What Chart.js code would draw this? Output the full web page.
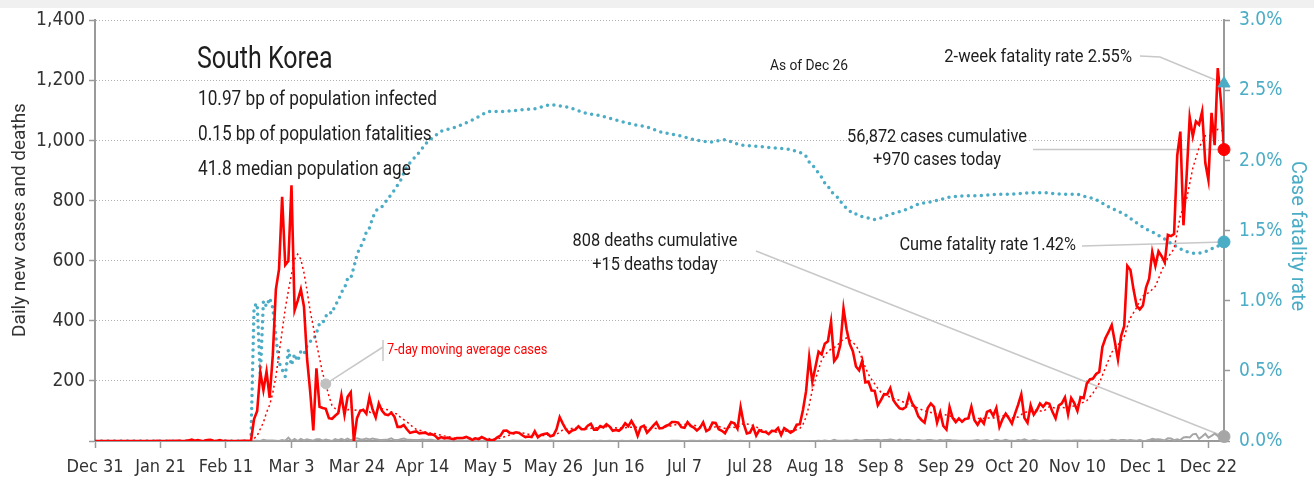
<!DOCTYPE html>
<html>
<head>
<meta charset="utf-8">
<script src="https://cdn.jsdelivr.net/npm/chart.js@4.4.1/dist/chart.umd.min.js"></script>
<style>
  html, body { margin: 0; padding: 0; background: #ffffff; }
  canvas { display: block; }
</style>
</head>
<body>
<canvas id="chart" width="1314" height="482"></canvas>
<script>
// Day index 0 = Dec 31, 2019; last index = latest report.
const tickLabels = ['Dec 31', 'Jan 21', 'Feb 11', 'Mar 3', 'Mar 24', 'Apr 14', 'May 5', 'May 26', 'Jun 16',
  'Jul 7', 'Jul 28', 'Aug 18', 'Sep 8', 'Sep 29', 'Oct 20', 'Nov 10', 'Dec 1', 'Dec 22'];
const tickDays = [0, 21, 42, 63, 84, 105, 126, 147, 168, 189, 210, 231, 252, 273, 294, 315, 336, 357];

// Daily new cases
const cases = [
  0,0,0,0,0,0,0,0,0,0,0,0,0,0,0,0,0,0,0,0,
  1,0,0,0,1,0,1,1,0,0,2,5,
  1,3,0,1,3,4,1,0,3,0,1,0,0,0,0,1,1,1,0,73,100,229,169,231,144,284,505,571,813,
  586,599,851,435,467,505,448,273,164,35,242,114,110,107,76,74,84,93,152,87,147,162,0,76,100,104,91,146,105,78,125,
  101,89,86,94,81,47,47,53,39,27,30,32,25,27,27,22,22,18,8,13,9,11,8,6,10,10,10,14,9,4,
  9,6,13,8,3,2,4,12,18,34,35,27,26,29,27,19,13,15,13,32,12,20,23,25,16,19,40,79,58,39,27,
  35,38,49,39,39,51,57,38,38,50,45,56,48,34,37,34,43,59,49,67,48,17,46,51,28,39,51,62,42,43,
  50,54,63,63,61,46,44,63,50,45,35,44,62,33,39,61,60,39,34,26,45,63,59,41,113,58,25,28,48,18,36,
  31,30,23,34,33,43,20,43,36,28,34,54,56,103,166,279,197,246,297,288,324,332,397,266,280,320,441,371,323,299,248,
  235,267,195,198,168,167,119,136,156,155,176,136,121,109,106,113,153,126,110,82,70,61,110,125,114,61,95,50,38,113,
  77,63,75,64,73,75,114,69,54,72,58,97,102,84,110,47,73,91,76,58,91,121,155,77,61,119,88,103,125,114,127,
  124,97,75,118,125,145,89,143,126,100,146,143,191,205,208,223,230,313,343,363,386,330,271,349,382,583,569,504,450,438,
  451,511,540,629,583,631,615,594,686,682,689,950,1030,718,880,1078,1014,1064,1053,1097,926,869,1092,985,1241,1132,970
];

// Daily new deaths
const deaths = [
  0,0,0,0,0,0,0,0,0,0,0,0,0,0,0,0,0,0,0,0,0,0,0,0,0,0,0,0,0,0,0,0,0,0,0,0,0,0,0,0,0,0,0,0,0,0,0,0,0,0,0,
  1,1,0,4,2,2,2,1,0,3,
  1,11,0,7,0,7,2,6,3,1,6,6,1,5,3,0,6,3,7,3,8,2,7,9,6,5,8,5,8,6,4,
  3,4,5,9,3,3,6,8,4,4,3,3,3,5,3,4,4,2,2,2,1,2,2,1,2,2,1,1,2,0,
  1,2,0,2,2,1,1,0,0,0,0,0,2,1,1,1,0,1,0,0,1,1,1,0,2,1,0,0,0,0,1,
  0,0,1,0,0,0,0,1,0,1,0,0,1,0,0,0,1,0,0,1,0,0,1,0,1,0,0,0,0,0,
  0,0,1,1,1,0,0,0,1,1,0,1,0,1,0,1,1,0,1,2,0,1,0,0,1,0,0,0,0,1,0,
  1,0,1,0,0,1,0,0,1,0,1,0,0,0,0,0,0,0,1,0,2,0,0,4,1,1,1,2,1,2,4,
  2,2,3,3,3,3,4,2,3,3,5,3,1,5,2,3,3,2,1,4,2,2,3,3,2,1,3,2,3,3,
  2,2,1,1,1,1,1,2,3,1,2,3,0,1,4,2,1,4,1,1,0,3,2,6,2,1,3,2,0,2,2,
  2,1,1,1,1,1,2,1,2,2,2,1,1,2,1,1,1,2,1,1,4,3,1,3,3,2,3,2,1,3,
  0,1,3,7,5,6,4,2,9,8,3,6,3,12,13,12,22,24,7,15,24,11,17,24,17,20,15
];

// 7-day moving average of cases: [day, value]
const movingAverage = [
  [0,0],[19,0],[26,0.4],[31,1.3],[38,1.9],[45,0.6],[50,0.4],[51,8],[52,18],[53,40],[54,62],[55,95],[56,120],
  [57,160],[58,215],[59,290],[60,365],[61,440],[62,500],[63,555],[64,605],[65,622],[66,605],[67,560],[68,500],
  [69,432],[70,380],[71,325],[72,275],[73,225],[74,190],[75,150],[76,118],[77,108],[78,100],[79,99],[80,96],
  [81,102],[82,114],[83,104],[84,102],[85,103],[86,97],[87,97],[88,97],[89,89],[90,100],[91,107],[92,107],
  [93,105],[94,104],[95,97],[96,93],[97,89],[98,78],[99,71],[100,64],[101,55],[102,46],[103,39],[104,36],
  [105,33],[106,30],[107,27],[108,26],[109,25],[110,21],[111,20],[112,17],[113,15],[114,13],[115,10],[117,9.6],
  [119,9.9],[121,9],[123,9],[125,9],[128,6.4],[130,9.4],[132,16.6],[134,23],[136,28],[138,25],[140,20],
  [142,18.7],[144,18.3],[146,20.1],[148,22.1],[150,37.1],[152,39.7],[154,45],[156,40.7],[158,39.7],[160,44.4],
  [162,44.6],[164,47.9],[166,44.1],[168,43.3],[170,44.3],[172,46],[174,45.3],[176,48.1],[178,42.3],[180,42],
  [182,45.1],[184,48.7],[186,53.9],[188,54.3],[190,56.3],[192,53.1],[194,46.7],[196,47.4],[198,45.6],[200,48.3],
  [202,41.7],[204,46.9],[206,43.9],[207,54.4],[208,57.9],[210,55.3],[212,47.3],[214,34.9],[216,30.6],[218,29.3],
  [220,30.6],[222,33.1],[224,33.9],[226,42],[227,55],[228,80],[229,120],[230,170],[231,205],[232,238],[233,270],
  [234,285],[235,298],[236,306],[237,311],[238,318],[239,330],[240,339],[241,343],[242,336],[243,328],[244,318],
  [245,300],[246,272],[247,245],[248,222],[249,205],[250,190],[251,175],[252,162],[254,150],[256,142],[258,135],
  [260,126],[262,117],[264,109],[266,100],[268,95],[270,89],[272,88],[274,85],[276,71],[278,68.6],[280,77.1],
  [282,76.1],[284,74.4],[286,77],[288,76.6],[290,81.4],[292,86.3],[294,77],[296,79.6],[298,95.6],[300,97.4],
  [302,103.4],[304,98.1],[306,114.3],[308,109.3],[310,111.4],[312,110.4],[314,117.3],[316,124.9],[318,134],
  [320,159.9],[322,192.3],[324,244.7],[326,295.1],[328,319.4],[330,346.3],[331,380.6],[332,410],[334,444],
  [335,467.9],[336,482.4],[338,494.7],[340,514.6],[342,565.7],[344,611.1],[346,640],[348,749.4],[350,805],
  [352,908.4],[354,976.7],[356,1016],[358,1016.4],[360,1037.6],[362,1030.7]
];

// Cumulative case fatality rate, percent: [day, value]
const fatalityRate = [
  [0,0],[50,0],[51,0.96],[52,0.98],[53,0.46],[54,1.00],[55,0.96],[56,1.02],[57,0.95],[58,0.74],[59,0.56],
  [60,0.51],[61,0.46],[62,0.65],[63,0.54],[64,0.62],[65,0.57],[66,0.64],[67,0.62],[68,0.68],[69,0.71],[70,0.72],
  [71,0.77],[72,0.84],[73,0.84],[74,0.89],[75,0.92],[76,0.91],[77,0.97],[78,1.00],[79,1.06],[80,1.09],[81,1.16],
  [82,1.16],[83,1.24],[84,1.33],[85,1.38],[86,1.42],[87,1.49],[88,1.52],[89,1.59],[90,1.64],[91,1.66],[92,1.67],
  [94,1.73],[96,1.79],[98,1.86],[100,1.96],[102,2.01],[104,2.06],[106,2.12],[108,2.16],[111,2.21],[116,2.24],
  [121,2.29],[126,2.35],[131,2.35],[136,2.36],[141,2.37],[146,2.40],[149,2.39],[152,2.38],[157,2.34],[162,2.32],
  [167,2.29],[172,2.26],[177,2.24],[182,2.20],[187,2.18],[192,2.15],[197,2.13],[202,2.15],[207,2.11],[213,2.10],
  [218,2.09],[223,2.08],[227,2.05],[228,2.03],[229,1.99],[230,1.97],[231,1.94],[232,1.91],[233,1.88],[234,1.84],
  [235,1.82],[236,1.78],[237,1.76],[238,1.74],[239,1.71],[240,1.68],[241,1.66],[242,1.64],[243,1.62],[244,1.62],
  [246,1.60],[248,1.59],[250,1.58],[252,1.59],[254,1.61],[257,1.63],[260,1.65],[264,1.69],[269,1.71],[274,1.74],
  [279,1.75],[284,1.75],[289,1.76],[294,1.76],[299,1.77],[305,1.77],[310,1.76],[315,1.76],[318,1.74],[320,1.73],
  [322,1.71],[325,1.67],[328,1.64],[330,1.62],[333,1.57],[335,1.54],[338,1.50],[340,1.48],[343,1.44],[345,1.41],
  [348,1.37],[350,1.35],[352,1.34],[354,1.34],[356,1.35],[358,1.37],[360,1.39],[362,1.42]
];

// Headline figures
const totalCases = 56872;
const totalDeaths = 808;
const twoWeekRate = 2.55;
const cumeRate = 1.42;
const asOf = 'Dec 26';
const country = 'South Korea';
const statLines = ['10.97 bp of population infected', '0.15 bp of population fatalities', '41.8 median population age'];
const maLabelDay = 74;

// ---- drawing ----
const TICK_FONT = '"DejaVu Sans Condensed", "DejaVu Sans", sans-serif';
const NOTE_FONT = 'Roboto, "DejaVu Sans Condensed", sans-serif';
const RED = '#ff0000';
const CYAN = '#4bacc6';
const GREY = '#a6a6a6';
const AXIS = '#9a9a9a';
const LEADER = '#c8c8c8';
const INK = '#1e1e1e';

const last = cases.length - 1;
const pairs = arr => arr.map(p => ({ x: p[0], y: p[1] }));
const maMarkValue = movingAverage.find(p => p[0] === maLabelDay)[1];

Chart.defaults.font.family = TICK_FONT;

// Text in a narrow grotesque: a regular face squeezed horizontally.
function note(ctx, s, x, y, size, color, align, squeeze) {
  ctx.save();
  ctx.translate(x, y);
  ctx.scale(squeeze, 1);
  ctx.font = size + 'px ' + NOTE_FONT;
  ctx.fillStyle = color;
  ctx.textAlign = align || 'left';
  ctx.textBaseline = 'middle';
  ctx.fillText(s, 0, 0);
  ctx.restore();
}

const decorations = {
  id: 'decorations',
  beforeDraw(chart) {
    const ctx = chart.ctx;
    ctx.save();
    ctx.fillStyle = '#f0f0f0';
    ctx.fillRect(0, 0, chart.width, 8);
    ctx.restore();
  },
  beforeDatasetsDraw(chart) {
    const { ctx, scales: { x, y, y2 } } = chart;
    const xe = x.getPixelForValue(last);
    ctx.save();
    ctx.strokeStyle = LEADER;
    ctx.lineWidth = 1.5;
    const seg = pts => {
      ctx.beginPath();
      ctx.moveTo(pts[0][0], pts[0][1]);
      for (let i = 1; i < pts.length; i++) ctx.lineTo(pts[i][0], pts[i][1]);
      ctx.stroke();
    };
    seg([[1140, 56], [1160, 57], [xe, y2.getPixelForValue(twoWeekRate)]]);
    const yc = y.getPixelForValue(cases[last]);
    seg([[1033, yc], [xe, yc]]);
    seg([[1082, 246], [xe, y2.getPixelForValue(cumeRate)]]);
    seg([[756, 251], [xe, y.getPixelForValue(deaths[last])]]);
    seg([[383, 340], [383, 361]]);
    seg([[383, 347], [x.getPixelForValue(maLabelDay), y.getPixelForValue(maMarkValue)]]);
    ctx.restore();
  },
  afterDraw(chart) {
    const ctx = chart.ctx;
    note(ctx, country, 197, 60, 32, INK, 'left', 0.78);
    note(ctx, statLines[0], 198, 100, 21, INK, 'left', 0.82);
    note(ctx, statLines[1], 198, 135, 21, INK, 'left', 0.82);
    note(ctx, statLines[2], 198, 170, 21, INK, 'left', 0.82);
    note(ctx, 'As of ' + asOf, 809, 66, 15, INK, 'center', 0.92);
    note(ctx, '2-week fatality rate ' + twoWeekRate.toFixed(2) + '%', 1132, 57, 19, INK, 'right', 0.87);
    note(ctx, totalCases.toLocaleString('en-US') + ' cases cumulative', 937, 137, 19, INK, 'center', 0.86);
    note(ctx, '+' + cases[last] + ' cases today', 937, 160, 19, INK, 'center', 0.86);
    note(ctx, 'Cume fatality rate ' + cumeRate.toFixed(2) + '%', 1076, 245, 19, INK, 'right', 0.86);
    note(ctx, totalDeaths.toLocaleString('en-US') + ' deaths cumulative', 655, 241, 19, INK, 'center', 0.86);
    note(ctx, '+' + deaths[last] + ' deaths today', 655, 265, 19, INK, 'center', 0.86);
    note(ctx, '7-day moving average cases', 387, 350, 15, RED, 'left', 0.85);

    // axis titles
    ctx.save();
    ctx.translate(20, 220);
    ctx.rotate(-Math.PI / 2);
    note(ctx, 'Daily new cases and deaths', 0, 0, 19, '#333', 'center', 1);
    ctx.restore();
    ctx.save();
    ctx.translate(1297, 236);
    ctx.rotate(Math.PI / 2);
    note(ctx, 'Case fatality rate', 0, 0, 20, CYAN, 'center', 1);
    ctx.restore();
  }
};

new Chart(document.getElementById('chart'), {
  type: 'line',
  data: {
    datasets: [
      { data: [{ x: last, y: twoWeekRate }], yAxisID: 'y2', showLine: false, clip: false, pointStyle: 'triangle',
        pointRadius: 7, pointBackgroundColor: CYAN, pointBorderColor: CYAN },
      { data: [{ x: last, y: cumeRate }], yAxisID: 'y2', showLine: false, clip: false,
        pointRadius: 6, pointBackgroundColor: CYAN, pointBorderColor: CYAN },
      { data: [{ x: last, y: cases[last] }], yAxisID: 'y', showLine: false, clip: false,
        pointRadius: 6, pointBackgroundColor: RED, pointBorderColor: RED },
      { data: [{ x: last, y: deaths[last] }], yAxisID: 'y', showLine: false, clip: false,
        pointRadius: 6, pointBackgroundColor: GREY, pointBorderColor: GREY },
      { data: [{ x: maLabelDay, y: maMarkValue }], yAxisID: 'y', showLine: false, clip: false,
        pointRadius: 5, pointBackgroundColor: '#c0c0c0', pointBorderColor: '#c0c0c0' },
      { label: 'Daily new cases', data: cases.map((v, i) => ({ x: i, y: v })), yAxisID: 'y',
        borderColor: RED, borderWidth: 2.6, pointRadius: 0, tension: 0 },
      { label: '7-day moving average cases', data: pairs(movingAverage), yAxisID: 'y',
        borderColor: RED, borderWidth: 1.5, borderDash: [2, 3], pointRadius: 0, tension: 0 },
      { label: 'Daily new deaths', data: deaths.map((v, i) => ({ x: i, y: v })), yAxisID: 'y',
        borderColor: GREY, borderWidth: 2, pointRadius: 0, tension: 0 },
      { label: 'Case fatality rate', data: pairs(fatalityRate), yAxisID: 'y2',
        borderColor: CYAN, borderWidth: 3.5, borderDash: [0, 6.5], borderCapStyle: 'round',
        pointRadius: 0, tension: 0 }
    ]
  },
  options: {
    responsive: false,
    animation: false,
    devicePixelRatio: 1,
    layout: { padding: { top: 17, left: 0, right: 0, bottom: 0 } },
    plugins: { legend: { display: false }, tooltip: { enabled: false } },
    scales: {
      x: {
        type: 'linear', min: 0, max: last,
        afterBuildTicks: s => { s.ticks = tickDays.map(v => ({ value: v })); },
        afterFit: s => { s.height = 41; },
        ticks: {
          autoSkip: false, maxRotation: 0, padding: 9, color: '#333', font: { size: 18 },
          callback: v => { const k = tickDays.indexOf(v); return k >= 0 ? tickLabels[k] : ''; }
        },
        grid: { drawOnChartArea: false, drawTicks: true, tickLength: 7, tickColor: AXIS, tickWidth: 1.5 },
        border: { color: AXIS, width: 2 }
      },
      y: {
        position: 'left', min: 0, max: 1400,
        afterFit: s => { s.width = 95; },
        ticks: { stepSize: 200, padding: 4, color: '#333', font: { size: 19 },
          callback: v => (v === 0 ? '' : v.toLocaleString('en-US')) },
        grid: { color: c => (c.tick && c.tick.value === 0 ? 'rgba(0,0,0,0)' : '#b0b0b0'),
          lineWidth: 1, tickLength: 6, tickColor: AXIS, tickWidth: 1.5 },
        border: { color: AXIS, width: 2, dash: [1, 2] }
      },
      y2: {
        position: 'right', min: 0, max: 3,
        afterFit: s => { s.width = 90; },
        ticks: { stepSize: 0.5, padding: 9, color: CYAN, font: { size: 19 },
          callback: v => v.toFixed(1) + '%' },
        grid: { drawOnChartArea: false, tickLength: 6, tickColor: AXIS, tickWidth: 1.5 },
        border: { color: AXIS, width: 2 }
      }
    }
  },
  plugins: [decorations]
});
</script>
</body>
</html>
